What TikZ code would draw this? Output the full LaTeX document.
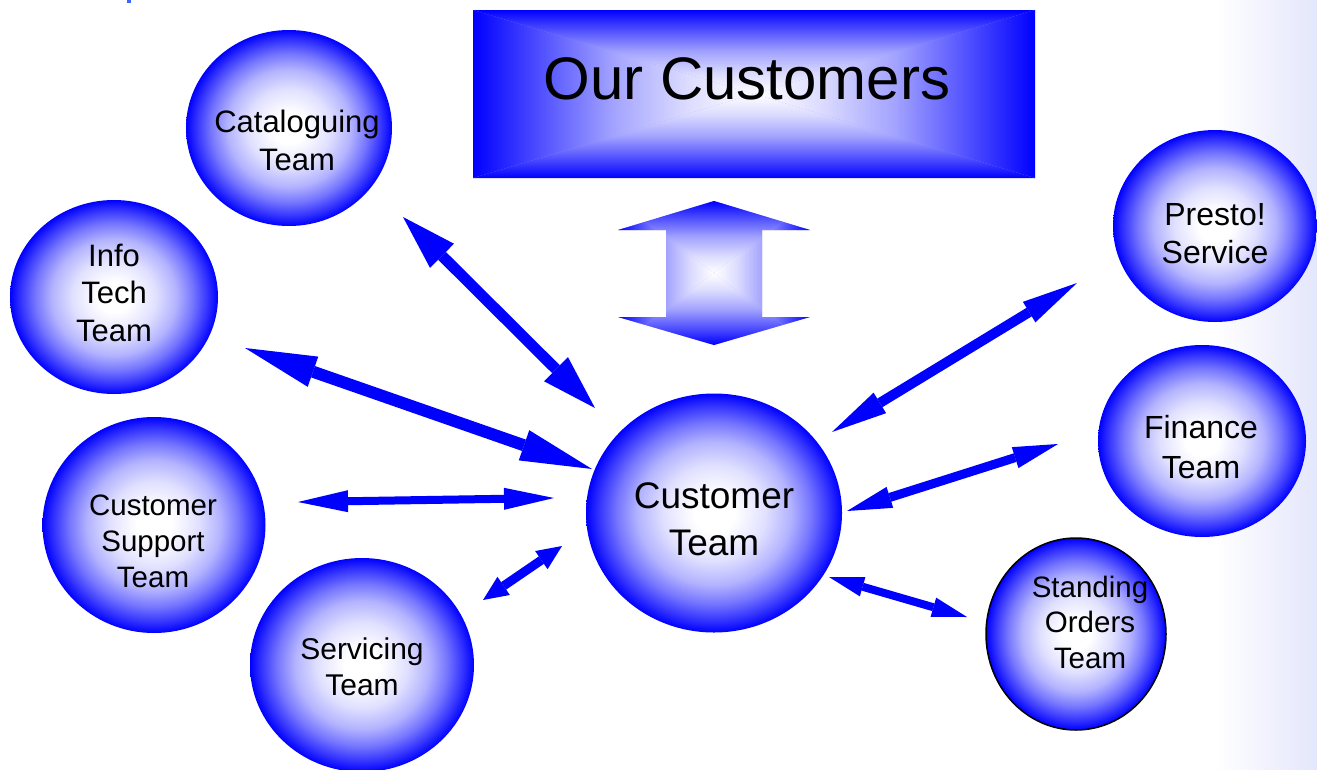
\documentclass[tikz,border=0pt]{standalone}
\usepackage{fontspec}
\setmainfont{Liberation Sans}
\usetikzlibrary{shapes.geometric,arrows.meta}
\definecolor{pblue}{RGB}{0,0,255}
\definecolor{edgetint}{RGB}{228,230,252}
\definecolor{fragblue}{RGB}{60,100,255}
\pgfdeclareradialshading{teamshade}{\pgfpointorigin}{color(0bp)=(white); color(4bp)=(white); color(10bp)=(white!88!pblue); color(15bp)=(white!70!pblue); color(19bp)=(white!46!pblue); color(22.5bp)=(white!20!pblue); color(25bp)=(pblue); color(50bp)=(pblue)}
\pgfdeclareverticalshading{boxfade}{100bp}{color(0bp)=(white); color(25bp)=(white); color(37bp)=(white!86!pblue); color(50bp)=(white!64!pblue); color(62bp)=(white!34!pblue); color(75bp)=(pblue); color(100bp)=(pblue)}
\tikzset{
  team/.style={ellipse, inner sep=0pt, shade, shading=teamshade},
  fadeside/.style={shade, shading=boxfade, shading angle=#1},
  lbl/.style={align=center, anchor=base, text=black, inner sep=0pt},
  dbl/.style n args={3}{draw=pblue, line width=#1,
     {Triangle[length=#2, width=#3, line width=0pt]}-{Triangle[length=#2, width=#3, line width=0pt]}},
}
\begin{document}
\begin{tikzpicture}[x=1pt,y=-1pt]
\useasboundingbox (0,0) rectangle (1317,769);
\clip (0,0) rectangle (1317,769);
% background tint at the right edge
\shade[left color=white, right color=edgetint] (1215,0) rectangle (1317,769);
\fill[fragblue] (127,0) rectangle (131,3);

% Our Customers box (rectangular gradient)
\fill[white!60!pblue] (473,10) rectangle (1035,178);
\path[fadeside=0] (473,10) -- (1035,10) -- (754,94) -- cycle;
\path[fadeside=180] (473,178) -- (1035,178) -- (754,94) -- cycle;
\path[fadeside=90] (473,10) -- (473,178) -- (754,94) -- cycle;
\path[fadeside=-90] (1035,10) -- (1035,178) -- (754,94) -- cycle;
\node[lbl, font=\fontsize{60}{70}\selectfont] (ourc) at (747,99) {Our Customers};

% block double arrow
\begin{scope}
\clip (714,201) -- (810,230) -- (762,230) -- (762,317) -- (810,317) -- (714,345)
      -- (618,317) -- (666,317) -- (666,230) -- (618,230) -- cycle;
\fill[white!60!pblue] (618,201) rectangle (810,345);
\path[fadeside=0] (618,201) -- (810,201) -- (714,273) -- cycle;
\path[fadeside=180] (618,345) -- (810,345) -- (714,273) -- cycle;
\path[fadeside=90] (618,201) -- (618,345) -- (714,273) -- cycle;
\path[fadeside=-90] (810,201) -- (810,345) -- (714,273) -- cycle;
\end{scope}
\coordinate (blockarrow) at (714,273);

% team circles
\node[team, minimum width=206pt, minimum height=196pt] (cat) at (289,128) {};
\node[team, minimum width=208pt, minimum height=194pt] (info) at (114,297) {};
\node[team, minimum width=223pt, minimum height=216pt] (sup) at (154,525) {};
\node[team, minimum width=224pt, minimum height=214pt] (serv) at (362,665) {};
\node[team, minimum width=256pt, minimum height=239pt] (cust) at (714,513) {};
\node[team, minimum width=204pt, minimum height=192pt] (presto) at (1215,226) {};
\node[team, minimum width=208pt, minimum height=192pt] (fin) at (1202,441) {};
\node[team, draw=black, line width=1.5pt, minimum width=180pt, minimum height=192pt] (stand) at (1076,634) {};

% connector end points
\coordinate (c1a) at (403,217); \coordinate (c1b) at (595,408);
\coordinate (c2a) at (245,348); \coordinate (c2b) at (592,469);
\coordinate (c3a) at (298,502); \coordinate (c3b) at (554,498);
\coordinate (c4a) at (483,600); \coordinate (c4b) at (562,546);
\coordinate (c5a) at (832,432); \coordinate (c5b) at (1077,283);
\coordinate (c6a) at (847,511); \coordinate (c6b) at (1058,444);
\coordinate (c7a) at (829,577); \coordinate (c7b) at (967,617);

\draw[dbl={11pt}{55pt}{34pt}] (c1a) -- (c1b);
\draw[dbl={12pt}{72pt}{32pt}] (c2a) -- (c2b);
\draw[dbl={8pt}{50pt}{22pt}] (c3a) -- (c3b);
\draw[dbl={9pt}{25pt}{22pt}] (c4a) -- (c4b);
\draw[dbl={10pt}{56pt}{24pt}] (c5a) -- (c5b);
\draw[dbl={9pt}{45pt}{22pt}] (c6a) -- (c6b);
\draw[dbl={8pt}{35pt}{20pt}] (c7a) -- (c7b);

% labels (anchor = baseline of the last line)
\node[lbl, font=\fontsize{31}{38}\selectfont] (catT) at (297,170) {Cataloguing\\Team};
\node[lbl, font=\fontsize{31}{37.5}\selectfont] (infoT) at (114,341) {Info\\Tech\\Team};
\node[lbl, font=\fontsize{29.5}{36}\selectfont] (supT) at (153,587) {Customer\\Support\\Team};
\node[lbl, font=\fontsize{30}{36}\selectfont] (servT) at (362,695) {Servicing\\Team};
\node[lbl, font=\fontsize{37}{47}\selectfont] (custT) at (714,555) {Customer\\Team};
\node[lbl, font=\fontsize{32}{38}\selectfont] (prestoT) at (1215,263) {Presto!\\Service};
\node[lbl, font=\fontsize{32}{40}\selectfont] (finT) at (1201,478) {Finance\\Team};
\node[lbl, font=\fontsize{29.5}{35.5}\selectfont] (standT) at (1090,668) {Standing\\Orders\\Team};
\end{tikzpicture}
\end{document}
